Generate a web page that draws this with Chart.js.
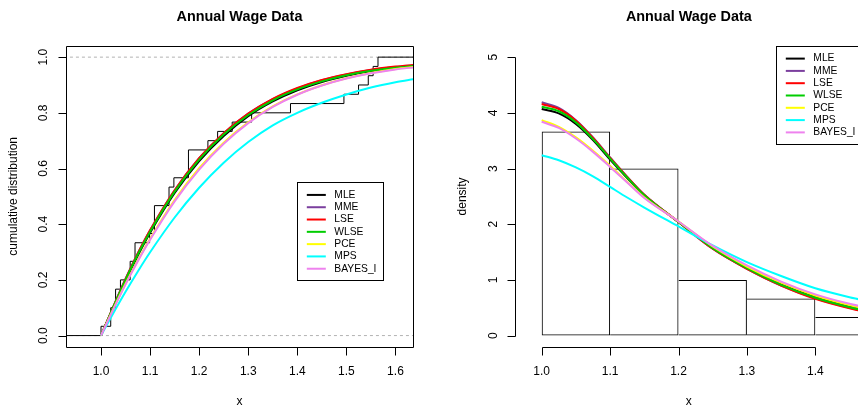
<!DOCTYPE html>
<html lang="en">
<head>
<meta charset="UTF-8">
<title>Annual Wage Data</title>
<script src="https://cdn.jsdelivr.net/npm/chart.js"></script>
<style>
  body { margin: 0; width: 858px; height: 409px; overflow: hidden; background: #fff; position: relative; }
  .panel { position: absolute; top: 0; width: 447px; height: 409px; }
  #left { left: 0; }
  #right { left: 447px; }
</style>
</head>
<body>
<div class="panel" id="left"><canvas id="cdfChart" width="447" height="409"></canvas></div>
<div class="panel" id="right"><canvas id="pdfChart" width="447" height="409"></canvas></div>
<script>
// ---- data ----
const seriesNames = ['MLE', 'MME', 'LSE', 'WLSE', 'PCE', 'MPS', 'BAYES_I'];

// empirical cdf (knots and heights)
const ecdfX = [1.0, 1.0198, 1.0297, 1.0396, 1.0594, 1.0693, 1.0990, 1.1089, 1.1386, 1.1485, 1.1782,
               1.2178, 1.2376, 1.2673, 1.3069, 1.3861, 1.4950, 1.5248, 1.5446, 1.5545, 1.5644];
const ecdfY = [0.0333, 0.1, 0.1667, 0.2, 0.2667, 0.3333, 0.3667, 0.4667, 0.5333, 0.5667, 0.6667,
               0.7, 0.7333, 0.7667, 0.8, 0.8333, 0.8667, 0.9, 0.9333, 0.9667, 1.0];
const refLevels = [0, 1];

// fitted cdf curves
const cdfX     = [1.0, 1.025, 1.05, 1.075, 1.1, 1.15, 1.2, 1.25, 1.3, 1.35, 1.4, 1.45, 1.5, 1.55, 1.6, 1.64];
const cdfMLE   = [0, 0.100, 0.197, 0.287, 0.369, 0.512, 0.627, 0.717, 0.788, 0.841, 0.881, 0.911, 0.933, 0.950, 0.961, 0.968];
const cdfMME   = [0, 0.104, 0.204, 0.296, 0.378, 0.522, 0.637, 0.727, 0.797, 0.849, 0.888, 0.917, 0.938, 0.954, 0.965, 0.971];
const cdfLSE   = [0, 0.103, 0.203, 0.295, 0.378, 0.522, 0.637, 0.727, 0.797, 0.850, 0.889, 0.918, 0.939, 0.955, 0.966, 0.972];
const cdfWLSE  = [0, 0.102, 0.200, 0.291, 0.373, 0.517, 0.632, 0.722, 0.792, 0.845, 0.884, 0.913, 0.935, 0.951, 0.962, 0.969];
const cdfPCE   = [0, 0.095, 0.186, 0.270, 0.348, 0.487, 0.601, 0.693, 0.766, 0.823, 0.866, 0.899, 0.924, 0.943, 0.957, 0.965];
const cdfMPS   = [0, 0.080, 0.157, 0.230, 0.299, 0.424, 0.531, 0.621, 0.695, 0.755, 0.800, 0.836, 0.866, 0.891, 0.910, 0.922];
const cdfBAYES = [0, 0.094, 0.184, 0.267, 0.344, 0.482, 0.596, 0.689, 0.763, 0.821, 0.865, 0.898, 0.923, 0.942, 0.956, 0.964];

// histogram (bin mids, density)
const histMid = [1.05, 1.15, 1.25, 1.35, 1.45, 1.55];
const histDensity = [3.667, 3.0, 1.0, 0.667, 0.333, 1.333];

// fitted density curves
const pdfX     = [1.0, 1.025, 1.05, 1.075, 1.1, 1.125, 1.15, 1.2, 1.25, 1.3, 1.35, 1.4, 1.45, 1.5];
const pdfMLE   = [4.07, 3.99, 3.80, 3.51, 3.16, 2.83, 2.52, 2.04, 1.57, 1.21, 0.92, 0.69, 0.52, 0.39];
const pdfMME   = [4.19, 4.09, 3.87, 3.56, 3.20, 2.85, 2.53, 2.04, 1.56, 1.20, 0.90, 0.67, 0.50, 0.37];
const pdfLSE   = [4.16, 4.07, 3.86, 3.55, 3.19, 2.85, 2.53, 2.04, 1.56, 1.20, 0.90, 0.66, 0.49, 0.36];
const pdfWLSE  = [4.11, 4.03, 3.83, 3.53, 3.18, 2.84, 2.52, 2.04, 1.57, 1.21, 0.91, 0.68, 0.51, 0.38];
const pdfPCE   = [3.87, 3.75, 3.56, 3.32, 3.05, 2.76, 2.48, 2.05, 1.60, 1.24, 0.95, 0.72, 0.55, 0.42];
const pdfMPS   = [3.24, 3.15, 3.02, 2.86, 2.67, 2.48, 2.30, 1.96, 1.62, 1.32, 1.07, 0.85, 0.69, 0.56];
const pdfBAYES = [3.84, 3.73, 3.54, 3.30, 3.03, 2.75, 2.47, 2.05, 1.61, 1.26, 0.97, 0.74, 0.57, 0.44];

// axis ticks
const cdfXTicks = [1.0, 1.1, 1.2, 1.3, 1.4, 1.5, 1.6];
const cdfXLabels = ['1.0', '1.1', '1.2', '1.3', '1.4', '1.5', '1.6'];
const cdfYTicks = [0, 0.2, 0.4, 0.6, 0.8, 1.0];
const cdfYLabels = ['0.0', '0.2', '0.4', '0.6', '0.8', '1.0'];
const pdfXTicks = [1.0, 1.1, 1.2, 1.3, 1.4];
const pdfXLabels = ['1.0', '1.1', '1.2', '1.3', '1.4'];
const pdfYTicks = [0, 1, 2, 3, 4, 5];
const pdfYLabels = ['0', '1', '2', '3', '4', '5'];

// ---- styling ----
const FONT = '"Liberation Sans", Arial, Helvetica, sans-serif';
const seriesColors = ['#000000', '#7b3f9e', '#ff0000', '#00cd00', '#ffff00', '#00ffff', '#ee82ee'];

function toPoints(xs, ys) {
    return xs.map((x, i) => ({ x: x, y: ys[i] }));
}

function curveSets(xs, list) {
    return list.map((ys, i) => ({
        label: seriesNames[i],
        type: 'line',
        data: toPoints(xs, ys),
        borderColor: seriesColors[i],
        borderWidth: 2,
        pointRadius: 0,
        fill: false,
        cubicInterpolationMode: 'monotone',
        clip: 0,
        order: 10 - i
    }));
}

// draws R-style axes, titles and legend box
function panelPlugin(cfg) {
    return {
        id: 'rPanel',
        afterDraw(chart) {
            const ctx = chart.ctx;
            const a = chart.chartArea;
            const sx = chart.scales.x, sy = chart.scales.y;
            const crisp = v => Math.round(v) + 0.5;
            ctx.save();
            ctx.strokeStyle = '#000';
            ctx.fillStyle = '#000';
            ctx.lineWidth = 1;

            const axY = crisp(a.bottom), axX = crisp(a.left);
            ctx.beginPath();
            if (cfg.box) {
                ctx.rect(crisp(a.left), crisp(a.top), Math.round(a.right - a.left), Math.round(a.bottom - a.top));
            } else {
                ctx.moveTo(crisp(sx.getPixelForValue(cfg.xTicks[0])), axY);
                ctx.lineTo(crisp(sx.getPixelForValue(cfg.xTicks[cfg.xTicks.length - 1])), axY);
                ctx.moveTo(axX, crisp(sy.getPixelForValue(cfg.yTicks[0])));
                ctx.lineTo(axX, crisp(sy.getPixelForValue(cfg.yTicks[cfg.yTicks.length - 1])));
            }
            cfg.xTicks.forEach(v => {
                const px = crisp(sx.getPixelForValue(v));
                ctx.moveTo(px, axY);
                ctx.lineTo(px, axY + 8);
            });
            cfg.yTicks.forEach(v => {
                const py = crisp(sy.getPixelForValue(v));
                ctx.moveTo(axX, py);
                ctx.lineTo(axX - 8, py);
            });
            ctx.stroke();

            ctx.font = '12px ' + FONT;
            ctx.textAlign = 'center';
            ctx.textBaseline = 'alphabetic';
            cfg.xTicks.forEach((v, i) => ctx.fillText(cfg.xLabels[i], sx.getPixelForValue(v), a.bottom + 28.3));
            cfg.yTicks.forEach((v, i) => {
                ctx.save();
                ctx.translate(a.left - 18.8, sy.getPixelForValue(v));
                ctx.rotate(-Math.PI / 2);
                ctx.fillText(cfg.yLabels[i], 0, 0);
                ctx.restore();
            });
            ctx.fillText(cfg.xTitle, (a.left + a.right) / 2, a.bottom + 58.3);
            ctx.save();
            ctx.translate(a.left - 49, (a.top + a.bottom) / 2);
            ctx.rotate(-Math.PI / 2);
            ctx.fillText(cfg.yTitle, 0, 0);
            ctx.restore();

            ctx.font = 'bold 14.4px ' + FONT;
            ctx.textBaseline = 'middle';
            ctx.fillText(cfg.title, (a.left + a.right) / 2, 17.5);

            // legend
            const w = 86, h = 98, row = 12.3;
            let left, top;
            if (cfg.legendCorner === 'topright') {
                left = a.right - w;
                top = a.top;
            } else {
                left = sx.getPixelForValue(cfg.legendAt[0]);
                top = sy.getPixelForValue(cfg.legendAt[1]);
            }
            ctx.strokeRect(crisp(left), crisp(top), w, h);
            ctx.font = '10.3px ' + FONT;
            ctx.textAlign = 'left';
            ctx.textBaseline = 'middle';
            seriesNames.forEach((name, i) => {
                const y = top + 12.5 + i * row;
                ctx.strokeStyle = seriesColors[i];
                ctx.lineWidth = 2;
                ctx.beginPath();
                ctx.moveTo(left + 9.5, y);
                ctx.lineTo(left + 28.5, y);
                ctx.stroke();
                ctx.fillStyle = '#000';
                ctx.fillText(name, left + 37, y);
            });
            ctx.restore();
        }
    };
}

// ---- left: cumulative distribution ----
const cdfSets = [
    ...refLevels.map(lv => ({
        type: 'line',
        data: [{ x: 0.9, y: lv }, { x: 1.7, y: lv }],
        borderColor: '#b3b3b3',
        borderWidth: 1,
        borderDash: [3, 3],
        pointRadius: 0,
        clip: 0,
        order: 100
    })),
    {
        type: 'line',
        data: [{ x: 0.9, y: 0 }, ...toPoints(ecdfX, ecdfY), { x: 1.7, y: 1 }],
        borderColor: '#000',
        borderWidth: 1,
        stepped: true,
        pointRadius: 0,
        clip: 0,
        order: 90
    },
    ...curveSets(cdfX, [cdfMLE, cdfMME, cdfLSE, cdfWLSE, cdfPCE, cdfMPS, cdfBAYES])
];

new Chart(document.getElementById('cdfChart'), {
    type: 'line',
    data: { datasets: cdfSets },
    options: {
        responsive: false,
        animation: false,
        layout: { padding: { left: 66, right: 34, top: 46, bottom: 62.3 } },
        plugins: { legend: { display: false }, tooltip: { enabled: false } },
        scales: {
            x: { type: 'linear', min: 0.92866, max: 1.63574, display: false },
            y: { type: 'linear', min: -0.04, max: 1.04, display: false }
        }
    },
    plugins: [panelPlugin({
        box: true,
        xTicks: cdfXTicks, xLabels: cdfXLabels,
        yTicks: cdfYTicks, yLabels: cdfYLabels,
        xTitle: 'x', yTitle: 'cumulative distribution',
        title: 'Annual Wage Data',
        legendAt: [1.4, 0.55]
    })]
});

// ---- right: density ----
const pdfSets = [
    {
        type: 'bar',
        data: toPoints(histMid, histDensity),
        backgroundColor: 'rgba(255,255,255,0)',
        borderColor: '#000',
        // each bin owns its right edge; the first bin also draws its left edge
        borderWidth: c => ({ top: 1, bottom: 1, right: 1, left: c.dataIndex === 0 ? 1 : 0 }),
        borderSkipped: false,
        inflateAmount: 0,
        barPercentage: 1,
        categoryPercentage: 1,
        grouped: false,
        order: 100
    },
    ...curveSets(pdfX, [pdfMLE, pdfMME, pdfLSE, pdfWLSE, pdfPCE, pdfMPS, pdfBAYES])
];

new Chart(document.getElementById('pdfChart'), {
    type: 'bar',
    data: { datasets: pdfSets },
    options: {
        responsive: false,
        animation: false,
        layout: { padding: { left: 68.3, right: 31.7, top: 46.1, bottom: 62.3 } },
        plugins: { legend: { display: false }, tooltip: { enabled: false } },
        scales: {
            x: { type: 'linear', min: 0.9614, max: 1.4687, display: false, offset: false,
                 ticks: { stepSize: 0.1, includeBounds: false } },
            y: { type: 'linear', min: -0.2, max: 5.2, display: false }
        }
    },
    plugins: [panelPlugin({
        box: false,
        xTicks: pdfXTicks, xLabels: pdfXLabels,
        yTicks: pdfYTicks, yLabels: pdfYLabels,
        xTitle: 'x', yTitle: 'density',
        title: 'Annual Wage Data',
        legendCorner: 'topright'
    })]
});
</script>
</body>
</html>
